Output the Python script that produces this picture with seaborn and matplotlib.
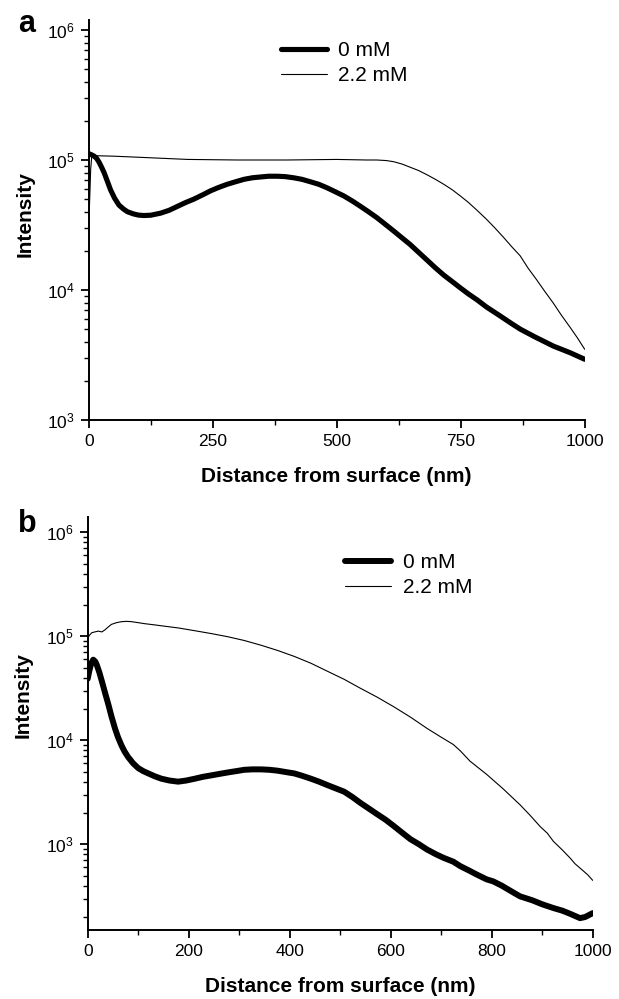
import numpy as np
import pandas as pd
import matplotlib
matplotlib.use("Agg")
import matplotlib.pyplot as plt
import seaborn as sns
from matplotlib.ticker import LogLocator, MultipleLocator, NullFormatter

# ---------------- data ----------------
series_labels = ["0 mM", "2.2 mM"]

# panel a, 0 mM
a0_x = [0, 5, 11, 16, 21, 26, 31, 38, 44, 52, 61, 70, 78, 90, 100, 111, 125, 145, 162,
        179, 195, 212, 230, 246, 262, 279, 296, 313, 330, 346, 363, 380, 396, 413, 430,
        447, 464, 481, 497, 514, 531, 548, 564, 581, 598, 615, 631, 648, 665, 682, 699,
        716, 733, 749, 766, 783, 802, 830, 850, 870, 900, 937, 970, 1000]
a0_y = [1.12e5, 1.10e5, 1.07e5, 1.03e5, 9.6e4, 8.8e4, 8.0e4, 6.8e4, 5.9e4, 5.1e4, 4.5e4,
        4.2e4, 4.0e4, 3.85e4, 3.77e4, 3.74e4, 3.76e4, 3.9e4, 4.1e4, 4.4e4, 4.7e4, 5.0e4,
        5.4e4, 5.8e4, 6.15e4, 6.5e4, 6.8e4, 7.1e4, 7.3e4, 7.4e4, 7.5e4, 7.5e4, 7.45e4,
        7.3e4, 7.1e4, 6.8e4, 6.5e4, 6.1e4, 5.7e4, 5.3e4, 4.85e4, 4.4e4, 4.0e4, 3.6e4,
        3.2e4, 2.84e4, 2.53e4, 2.24e4, 1.95e4, 1.7e4, 1.48e4, 1.3e4, 1.16e4, 1.04e4,
        9.3e3, 8.4e3, 7.4e3, 6.3e3, 5.6e3, 5.0e3, 4.35e3, 3.7e3, 3.3e3, 2.93e3]

# panel a, 2.2 mM
a2_x = [0, 2, 4, 6, 10, 50, 100, 200, 300, 400, 500, 560, 581, 600, 615, 632, 648, 665,
        682, 699, 716, 733, 749, 766, 783, 802, 819, 836, 853, 870, 886, 903, 920, 937,
        953, 970, 985, 1000]
a2_y = [3.0e4, 5.0e4, 8.5e4, 1.05e5, 1.08e5, 1.07e5, 1.05e5, 1.01e5, 1.0e5, 1.0e5,
        1.01e5, 1.0e5, 1.0e5, 9.9e4, 9.7e4, 9.3e4, 8.8e4, 8.3e4, 7.7e4, 7.1e4, 6.5e4,
        5.9e4, 5.3e4, 4.7e4, 4.1e4, 3.5e4, 3.0e4, 2.55e4, 2.15e4, 1.83e4, 1.47e4, 1.2e4,
        9.7e3, 7.9e3, 6.4e3, 5.2e3, 4.3e3, 3.5e3]

# panel b, 0 mM
b0_x = [0, 3, 7, 11, 15, 18, 23, 28, 34, 41, 47, 54, 60, 67, 73, 80, 90, 100, 110, 120,
        133, 146, 162, 179, 195, 212, 228, 245, 261, 277, 294, 310, 326, 343, 360, 376,
        392, 409, 425, 442, 458, 475, 491, 508, 524, 540, 557, 573, 590, 606, 622, 639,
        656, 672, 690, 705, 724, 738, 755, 770, 790, 803, 820, 833, 856, 880, 900, 922,
        940, 955, 975, 985, 1000]
b0_y = [3.9e4, 4.6e4, 5.5e4, 5.95e4, 5.7e4, 5.3e4, 4.5e4, 3.7e4, 2.9e4, 2.2e4, 1.7e4,
        1.3e4, 1.07e4, 8.9e3, 7.8e3, 6.9e3, 6.0e3, 5.4e3, 5.05e3, 4.8e3, 4.5e3, 4.27e3,
        4.1e3, 4.0e3, 4.1e3, 4.27e3, 4.45e3, 4.6e3, 4.75e3, 4.9e3, 5.05e3, 5.2e3, 5.25e3,
        5.25e3, 5.2e3, 5.1e3, 4.95e3, 4.8e3, 4.55e3, 4.27e3, 4.0e3, 3.7e3, 3.45e3, 3.2e3,
        2.85e3, 2.5e3, 2.2e3, 1.95e3, 1.72e3, 1.5e3, 1.3e3, 1.12e3, 1.0e3, 890, 800, 740,
        680, 616, 560, 513, 460, 440, 400, 367, 316, 290, 265, 244, 230, 215, 195, 200,
        218]

# panel b, 2.2 mM
b2_x = [0, 4, 8, 14, 21, 28, 34, 40, 47, 57, 67, 77, 87, 100, 113, 130, 146, 180, 212,
        245, 277, 310, 343, 376, 409, 442, 475, 508, 540, 573, 606, 639, 672, 700, 724,
        738, 757, 790, 823, 856, 876, 896, 910, 922, 940, 955, 965, 975, 990, 1000]
b2_y = [9.6e4, 1.03e5, 1.08e5, 1.1e5, 1.12e5, 1.1e5, 1.15e5, 1.22e5, 1.3e5, 1.35e5,
        1.38e5, 1.39e5, 1.38e5, 1.35e5, 1.32e5, 1.29e5, 1.26e5, 1.2e5, 1.13e5, 1.06e5,
        9.9e4, 9.1e4, 8.2e4, 7.3e4, 6.4e4, 5.5e4, 4.6e4, 3.85e4, 3.16e4, 2.6e4, 2.1e4,
        1.67e4, 1.3e4, 1.07e4, 9.1e3, 7.9e3, 6.3e3, 4.7e3, 3.4e3, 2.4e3, 1.9e3, 1.48e3,
        1.28e3, 1.07e3, 880, 740, 650, 590, 510, 450]

x_label = "Distance from surface (nm)"
y_label = "Intensity"
panel_letters = ["a", "b"]

# ---------------- style ----------------
sns.set_style("ticks")
plt.rcParams["font.family"] = ["Liberation Sans", "DejaVu Sans"]
plt.rcParams["mathtext.fontset"] = "custom"
plt.rcParams["mathtext.rm"] = "Liberation Sans"
plt.rcParams["mathtext.it"] = "Liberation Sans:italic"
plt.rcParams["mathtext.bf"] = "Liberation Sans:bold"
for k in ["text.color", "axes.labelcolor", "xtick.color", "ytick.color", "axes.edgecolor"]:
    plt.rcParams[k] = "black"

W, H = 619, 999
fig = plt.figure(figsize=(W / 100, H / 100), dpi=100)

def frac(left, right, top, bottom):
    return [left / W, 1 - bottom / H, (right - left) / W, (bottom - top) / H]

ax_a = fig.add_axes(frac(88.7, 584.7, 19.7, 420))
ax_b = fig.add_axes(frac(87.7, 592.7, 517, 930))

configs = [
    dict(ax=ax_a, data=(a0_x, a0_y, a2_x, a2_y), ylim=(1e3, 1.2e6), major=250,
         thick=3.7, ylab_y=0.515, xlab_y=-0.1416,
         leg=(0.388, 0.947)),
    dict(ax=ax_b, data=(b0_x, b0_y, b2_x, b2_y), ylim=(150, 1.4e6), major=200,
         thick=4.3, ylab_y=0.569, xlab_y=-0.1373,
         leg=(0.51, 0.913)),
]

for c in configs:
    ax = c["ax"]
    x0, y0, x2, y2 = c["data"]
    d0 = pd.DataFrame({"x": x0, "y": y0})
    d2 = pd.DataFrame({"x": x2, "y": y2})
    sns.lineplot(data=d0, x="x", y="y", ax=ax, color="black", linewidth=c["thick"],
                 label=series_labels[0], solid_capstyle="round", solid_joinstyle="round")
    sns.lineplot(data=d2, x="x", y="y", ax=ax, color="black", linewidth=0.8,
                 label=series_labels[1])
    ax.set_yscale("log")
    ax.set_ylim(*c["ylim"])
    ax.set_xlim(0, 1000)
    ax.xaxis.set_major_locator(MultipleLocator(c["major"]))
    ax.xaxis.set_minor_locator(MultipleLocator(c["major"] / 2))
    ax.yaxis.set_major_locator(LogLocator(base=10, numticks=10))
    ax.yaxis.set_minor_locator(LogLocator(base=10, subs=np.arange(2, 10), numticks=10))
    ax.yaxis.set_minor_formatter(NullFormatter())
    for s in ["top", "right"]:
        ax.spines[s].set_visible(False)
    for s in ["left", "bottom"]:
        ax.spines[s].set_linewidth(1.4)
    ax.tick_params(axis="both", which="major", direction="out", length=6, width=1.3,
                   labelsize=12.5, pad=4)
    ax.tick_params(axis="both", which="minor", direction="out", length=3.5, width=1.0)
    ax.set_xlabel(x_label, fontsize=15, fontweight="bold")
    ax.set_ylabel(y_label, fontsize=15, fontweight="bold")
    ax.xaxis.set_label_coords(0.5, c["xlab_y"])
    ax.xaxis.label.set_va("center")
    ax.yaxis.set_label_coords(-0.128, c["ylab_y"])
    ax.yaxis.label.set_va("center")
    ax.legend(loc="upper left", bbox_to_anchor=c["leg"], frameon=False,
              fontsize=15, handlelength=2.2, handletextpad=0.55, labelspacing=0.3,
              borderpad=0, borderaxespad=0)

fig.text(27 / W, 1 - 24 / H, panel_letters[0], fontsize=22, fontweight="bold",
         ha="center", va="center")
fig.text(27 / W, 1 - 524 / H, panel_letters[1], fontsize=22, fontweight="bold",
         ha="center", va="center")

fig.savefig("out.png", dpi=100)
